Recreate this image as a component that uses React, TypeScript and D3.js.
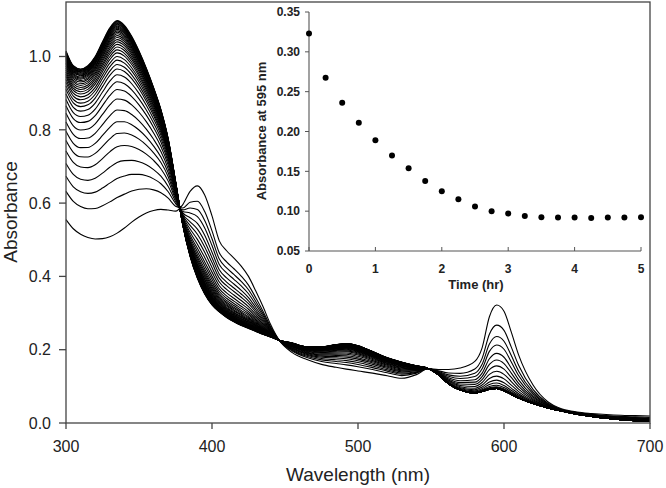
import { useEffect, useRef } from "react";
import * as d3 from "d3";

// spectra sampled at these wavelengths (nm)
const wavelengths = [
  300, 305, 310, 315, 320, 325, 330, 335, 340, 345, 350, 355, 360, 365, 370, 375, 380, 385, 390, 395,
  400, 405, 410, 415, 420, 425, 430, 435, 440, 446, 455, 465, 475, 485, 492, 500, 510, 520, 530, 540,
  548, 555, 562, 570, 580, 585, 590, 595, 600, 605, 610, 620, 630, 640, 650, 660, 670, 680, 690, 700,
];

// first recorded spectrum (t = 0)
const startSpectrum = [
  0.555, 0.53, 0.515, 0.506, 0.502, 0.503, 0.508, 0.518, 0.532, 0.548, 0.562, 0.573, 0.58, 0.583, 0.581, 0.578, 0.596, 0.632, 0.647, 0.622,
  0.565, 0.497, 0.47, 0.45, 0.428, 0.4, 0.36, 0.317, 0.27, 0.226, 0.192, 0.173, 0.16, 0.152, 0.147, 0.142, 0.136, 0.129, 0.122, 0.132,
  0.148, 0.146, 0.146, 0.15, 0.168, 0.205, 0.29, 0.322, 0.305, 0.248, 0.186, 0.103, 0.058, 0.038, 0.03, 0.026, 0.023, 0.021, 0.02, 0.019,
];

// last recorded spectrum
const endSpectrum = [
  1.015, 0.975, 0.966, 0.975, 1.0, 1.04, 1.078, 1.098, 1.085, 1.055, 1.015, 0.968, 0.915, 0.855, 0.775, 0.66, 0.54, 0.455, 0.395, 0.352,
  0.322, 0.303, 0.288, 0.276, 0.266, 0.258, 0.25, 0.242, 0.235, 0.226, 0.218, 0.208, 0.208, 0.214, 0.217, 0.211, 0.195, 0.178, 0.166, 0.156,
  0.149, 0.132, 0.107, 0.09, 0.082, 0.086, 0.092, 0.094, 0.088, 0.078, 0.068, 0.053, 0.041, 0.032, 0.024, 0.018, 0.013, 0.009, 0.006, 0.004,
];

// absorbance of every spectrum at 335 nm and at 595 nm
const uvLevels335 = [
  0.518, 0.615, 0.667, 0.711, 0.754, 0.79, 0.822, 0.854, 0.884, 0.91, 0.931, 0.95, 0.966, 0.978, 0.99, 1.0, 1.01, 1.018, 1.026,
  1.033, 1.04, 1.046, 1.052, 1.057, 1.062, 1.066, 1.07, 1.074, 1.077, 1.08, 1.083, 1.086, 1.088, 1.09, 1.092, 1.094, 1.096, 1.098,
];
const visLevels595 = [
  0.322, 0.267, 0.236, 0.213, 0.19, 0.172, 0.156, 0.141, 0.128, 0.117, 0.109, 0.103, 0.099, 0.097, 0.096, 0.095, 0.095, 0.095, 0.094,
  0.094, 0.094, 0.094, 0.094, 0.094, 0.094, 0.094, 0.094, 0.094, 0.094, 0.094, 0.094, 0.094, 0.094, 0.094, 0.094, 0.094, 0.094, 0.094,
];

// inset: absorbance at 595 nm vs time
const insetTime = [0, 0.25, 0.5, 0.75, 1, 1.25, 1.5, 1.75, 2, 2.25, 2.5, 2.75, 3, 3.25, 3.5, 3.75, 4, 4.25, 4.5, 4.75, 5];
const insetAbs = [
  0.323, 0.2675, 0.236, 0.211, 0.189, 0.17, 0.154, 0.138, 0.125, 0.115, 0.106, 0.1, 0.097, 0.094, 0.0925, 0.092, 0.092, 0.0915, 0.092,
  0.092, 0.0925,
];

const mainXTicks = [300, 400, 500, 600, 700];
const mainYTicks = [0, 0.2, 0.4, 0.6, 0.8, 1.0];
const insetXTicks = [0, 1, 2, 3, 4, 5];
const insetYTicks = [0.05, 0.1, 0.15, 0.2, 0.25, 0.3, 0.35];

const FONT = "'Liberation Sans', Arial, sans-serif";

export default function App() {
  const ref = useRef<SVGSVGElement>(null);

  useEffect(() => {
    const svg = d3.select(ref.current);
    svg.selectAll("*").remove();

    const x = d3.scaleLinear([300, 700], [66, 650]);
    const y = d3.scaleLinear([0, 1.1487], [423, 2]);

    // spectra
    const i335 = wavelengths.indexOf(335);
    const i595 = wavelengths.indexOf(595);
    const s335 = startSpectrum[i335], e335 = endSpectrum[i335];
    const s595 = startSpectrum[i595], e595 = endSpectrum[i595];

    const line = d3
      .line<[number, number]>()
      .x((d) => x(d[0]))
      .y((d) => y(d[1]))
      .curve(d3.curveMonotoneX);

    const curves = uvLevels335.map((uv, i) => {
      const fUV = (uv - s335) / (e335 - s335);
      const fVis = (s595 - visLevels595[i]) / (s595 - e595);
      return wavelengths.map((w, k) => {
        const t = Math.max(0, Math.min(1, (w - 540) / 16));
        const f = fUV * (1 - t) + fVis * t;
        return [w, startSpectrum[k] + (endSpectrum[k] - startSpectrum[k]) * f] as [number, number];
      });
    });

    svg
      .append("g")
      .selectAll("path")
      .data(curves)
      .join("path")
      .attr("fill", "none")
      .attr("stroke", "#000")
      .attr("stroke-width", 1.1)
      .attr("stroke-linejoin", "round")
      .attr("d", (d) => line(d));

    // frame + main axes
    svg
      .append("rect")
      .attr("x", 66)
      .attr("y", 2)
      .attr("width", 584)
      .attr("height", 421)
      .attr("fill", "none")
      .attr("stroke", "#444")
      .attr("stroke-width", 1.3);

    const gy = svg.append("g");
    gy.selectAll("line")
      .data(mainYTicks)
      .join("line")
      .attr("x1", 59)
      .attr("x2", 66)
      .attr("y1", (d) => y(d))
      .attr("y2", (d) => y(d))
      .attr("stroke", "#444")
      .attr("stroke-width", 1.3);
    gy.selectAll("text")
      .data(mainYTicks)
      .join("text")
      .attr("x", 51)
      .attr("y", (d) => y(d))
      .attr("dy", "0.36em")
      .attr("text-anchor", "end")
      .attr("font-family", FONT)
      .attr("font-size", 16)
      .attr("fill", "#222")
      .text((d) => d3.format(".1f")(d));

    const gx = svg.append("g");
    gx.selectAll("line")
      .data(mainXTicks)
      .join("line")
      .attr("x1", (d) => x(d))
      .attr("x2", (d) => x(d))
      .attr("y1", 423)
      .attr("y2", 429)
      .attr("stroke", "#444")
      .attr("stroke-width", 1.3);
    gx.selectAll("text")
      .data(mainXTicks)
      .join("text")
      .attr("x", (d) => x(d))
      .attr("y", 452)
      .attr("text-anchor", "middle")
      .attr("font-family", FONT)
      .attr("font-size", 16)
      .attr("fill", "#222")
      .text((d) => d);

    svg
      .append("text")
      .attr("x", 358)
      .attr("y", 481)
      .attr("text-anchor", "middle")
      .attr("font-family", FONT)
      .attr("font-size", 19)
      .attr("fill", "#222")
      .text("Wavelength (nm)");
    svg
      .append("text")
      .attr("transform", "translate(17,212) rotate(-90)")
      .attr("text-anchor", "middle")
      .attr("font-family", FONT)
      .attr("font-size", 19)
      .attr("fill", "#222")
      .text("Absorbance");

    // inset
    const xi = d3.scaleLinear([0, 5], [309, 641]);
    const yi = d3.scaleLinear([0.05, 0.35], [251, 12]);
    const inset = svg.append("g");

    inset
      .append("line")
      .attr("x1", 309)
      .attr("x2", 309)
      .attr("y1", yi(0.35))
      .attr("y2", yi(0.05))
      .attr("stroke", "#555")
      .attr("stroke-width", 1.1);
    inset
      .append("line")
      .attr("x1", xi(0))
      .attr("x2", xi(5))
      .attr("y1", 251)
      .attr("y2", 251)
      .attr("stroke", "#555")
      .attr("stroke-width", 1.1);

    inset
      .append("g")
      .selectAll("line")
      .data(insetYTicks)
      .join("line")
      .attr("x1", 305)
      .attr("x2", 309)
      .attr("y1", (d) => yi(d))
      .attr("y2", (d) => yi(d))
      .attr("stroke", "#555");
    inset
      .append("g")
      .selectAll("text")
      .data(insetYTicks)
      .join("text")
      .attr("x", 300)
      .attr("y", (d) => yi(d))
      .attr("dy", "0.36em")
      .attr("text-anchor", "end")
      .attr("font-family", FONT)
      .attr("font-weight", "bold")
      .attr("font-size", 12)
      .attr("fill", "#222")
      .text((d) => d3.format(".2f")(d));

    inset
      .append("g")
      .selectAll("line")
      .data(insetXTicks)
      .join("line")
      .attr("x1", (d) => xi(d))
      .attr("x2", (d) => xi(d))
      .attr("y1", 247)
      .attr("y2", 251)
      .attr("stroke", "#555");
    inset
      .append("g")
      .selectAll("text")
      .data(insetXTicks)
      .join("text")
      .attr("x", (d) => xi(d))
      .attr("y", 273)
      .attr("text-anchor", "middle")
      .attr("font-family", FONT)
      .attr("font-weight", "bold")
      .attr("font-size", 12)
      .attr("fill", "#222")
      .text((d) => d);

    inset
      .append("text")
      .attr("x", 476)
      .attr("y", 289)
      .attr("text-anchor", "middle")
      .attr("font-family", FONT)
      .attr("font-weight", "bold")
      .attr("font-size", 13)
      .attr("fill", "#222")
      .text("Time (hr)");
    inset
      .append("text")
      .attr("transform", "translate(266,131) rotate(-90)")
      .attr("text-anchor", "middle")
      .attr("font-family", FONT)
      .attr("font-weight", "bold")
      .attr("font-size", 13)
      .attr("fill", "#222")
      .text("Absorbance at 595 nm");

    inset
      .append("g")
      .selectAll("circle")
      .data(insetTime)
      .join("circle")
      .attr("cx", (d) => xi(d))
      .attr("cy", (d, i) => yi(insetAbs[i]))
      .attr("r", 3)
      .attr("fill", "#000");
  }, []);

  return (
    <svg
      ref={ref}
      width={666}
      height={488}
      style={{ position: "absolute", left: 0, top: 0, background: "#fff", display: "block" }}
    />
  );
}
